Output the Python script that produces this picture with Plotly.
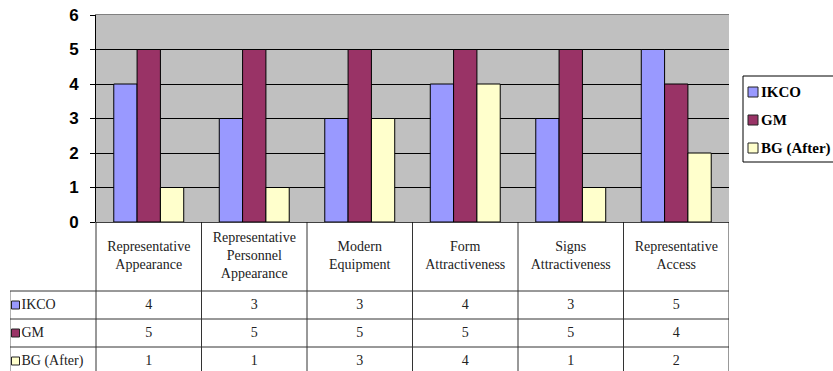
import plotly.graph_objects as go

categories = ["Representative Appearance", "Representative Personnel Appearance",
              "Modern Equipment", "Form Attractiveness", "Signs Attractiveness",
              "Representative Access"]
header_labels = ["Representative<br>Appearance", "Representative<br>Personnel<br>Appearance",
                 "Modern<br>Equipment", "Form<br>Attractiveness", "Signs<br>Attractiveness",
                 "Representative<br>Access"]
series_names = ["IKCO", "GM", "BG (After)"]
ikco = [4, 3, 3, 4, 3, 5]
gm = [5, 5, 5, 5, 5, 4]
bg_after = [1, 1, 3, 4, 1, 2]
colors = ["#9999FF", "#993366", "#FFFFCC"]
y_ticks = [0, 1, 2, 3, 4, 5, 6]

W, H = 833, 371
px_l, px_r, px_t, px_b = 96, 729, 15, 222
tbl_l = 10
col_w = (px_r - px_l) / len(categories)          # px per category
lab_w = (px_l - tbl_l) / col_w                   # label column width, in category units
hdr_h, row_h = 69, 28
tbl_h = H - px_b
line_c = "#333333"
serif = "Liberation Serif"

fig = go.Figure()
for name, vals, c in zip(series_names, [ikco, gm, bg_after], colors):
    fig.add_trace(go.Bar(x=categories, y=vals, name=name, marker_color=c,
                         marker_line_color="black", marker_line_width=1,
                         showlegend=False, xaxis="x", yaxis="y"))

# ---- data table below the chart (own hidden axes x2/y2: x in category units, y in px below plot)
idx = list(range(len(categories)))
x_left = -0.5 - lab_w
fig.add_trace(go.Scatter(x=idx, y=[hdr_h / 2] * len(idx), text=header_labels, mode="text",
                         textposition="middle center", xaxis="x2", yaxis="y2",
                         textfont=dict(family=serif, size=14, color="#222"),
                         showlegend=False, hoverinfo="skip", cliponaxis=False))
for r, (name, vals, c) in enumerate(zip(series_names, [ikco, gm, bg_after], colors)):
    yc = hdr_h + row_h * (r + 0.5)
    fig.add_trace(go.Scatter(x=idx, y=[yc] * len(idx), text=[str(v) for v in vals], mode="text",
                             textposition="middle center", xaxis="x2", yaxis="y2",
                             textfont=dict(family=serif, size=14, color="#222"),
                             showlegend=False, hoverinfo="skip", cliponaxis=False))
    fig.add_trace(go.Scatter(x=[x_left + 5.5 / col_w], y=[yc], text=[name],
                             mode="markers+text", textposition="middle right",
                             marker=dict(symbol="square", size=8, color=c,
                                         line=dict(color="#222", width=1)),
                             xaxis="x2", yaxis="y2",
                             textfont=dict(family=serif, size=14, color="#222"),
                             showlegend=False, hoverinfo="skip", cliponaxis=False))

shapes = [dict(type="rect", xref="x domain", yref="y domain", x0=0, x1=1, y0=0, y1=1,
               fillcolor="#C0C0C0", line=dict(width=0), layer="below")]
# vertical lines (column separators)
for k in range(len(categories) + 1):
    shapes.append(dict(type="line", xref="x2", yref="y2", x0=k - 0.5, x1=k - 0.5,
                       y0=0, y1=tbl_h, line=dict(color=line_c, width=1)))
shapes.append(dict(type="line", xref="x2", yref="y2", x0=x_left, x1=x_left,
                   y0=hdr_h, y1=tbl_h, line=dict(color="#666666", width=1)))
# horizontal lines
for r in range(len(series_names)):
    yy = hdr_h + row_h * r
    shapes.append(dict(type="line", xref="x2", yref="y2", x0=x_left, x1=len(categories) - 0.5,
                       y0=yy, y1=yy, line=dict(color=line_c, width=1)))
shapes.append(dict(type="line", xref="x2", yref="y2", x0=-0.5, x1=len(categories) - 0.5,
                   y0=0, y1=0, line=dict(color="black", width=1)))

# ---- legend box (drawn by hand to match the compact original legend)
leg_l, leg_t, leg_b = 743, 76, 162
leg_y = [92, 120, 148]
annotations = []
shapes.append(dict(type="rect", xref="paper", yref="paper", x0=leg_l / W, x1=(W + 5) / W,
                   y0=1 - leg_b / H, y1=1 - leg_t / H, fillcolor="white",
                   line=dict(color="black", width=1)))
for name, c, yy in zip(series_names, colors, leg_y):
    shapes.append(dict(type="rect", xref="paper", yref="paper", x0=748 / W, x1=758 / W,
                       y0=1 - (yy + 5) / H, y1=1 - (yy - 5) / H, fillcolor=c,
                       line=dict(color="#222", width=1)))
    annotations.append(dict(xref="paper", yref="paper", x=759 / W, y=1 - yy / H,
                            xanchor="left", yanchor="middle", text=f"<b>{name}</b>",
                            showarrow=False,
                            font=dict(family=serif, size=15, color="black")))

fig.update_layout(
    width=W, height=H,
    margin=dict(l=0, r=0, t=0, b=0, autoexpand=False),
    paper_bgcolor="white",
    plot_bgcolor="white",
    barmode="group",
    bargap=0.337,
    bargroupgap=0,
    showlegend=False,
    shapes=shapes,
    annotations=annotations,
    xaxis=dict(domain=[px_l / W, px_r / W], showticklabels=False, ticks="",
               showgrid=False, showline=True, linecolor="#808080", mirror=True,
               fixedrange=True),
    yaxis=dict(domain=[1 - px_b / H, 1 - px_t / H], range=[0, 6],
               tickvals=y_ticks, ticks="outside", ticklen=5, tickcolor="black",
               showgrid=True, gridcolor="black", gridwidth=1,
               showline=True, linecolor="black", linewidth=1,
               zeroline=False, fixedrange=True,
               tickfont=dict(family="Arial", size=17, color="black", weight="bold"),
               ticklabelstandoff=8),
    xaxis2=dict(domain=[tbl_l / W, px_r / W], range=[x_left, len(categories) - 0.5],
                visible=False, fixedrange=True, anchor="y2"),
    yaxis2=dict(domain=[0, tbl_h / H], range=[tbl_h, 0], visible=False,
                fixedrange=True, anchor="x2"),
)

fig.write_html("out.html")
